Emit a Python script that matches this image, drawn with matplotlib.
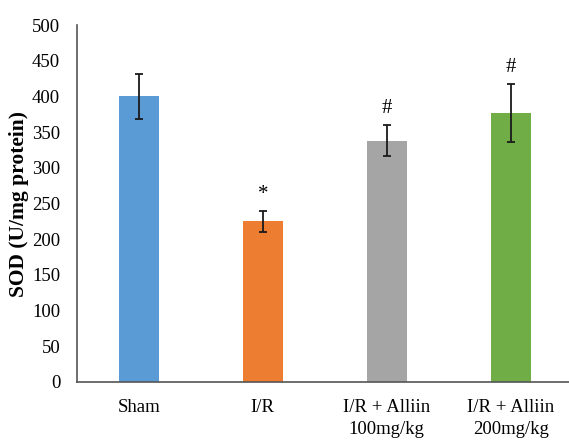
import matplotlib
matplotlib.use("Agg")
import matplotlib.pyplot as plt

categories = ["Sham", "I/R", "I/R + Alliin\n100mg/kg", "I/R + Alliin\n200mg/kg"]
values = [400, 225, 338, 377]
errors = [31, 15, 22, 41]
marks = ["", "*", "#", "#"]
colors = ["#5B9BD5", "#ED7D31", "#A5A5A5", "#70AD47"]
yticks = [0, 50, 100, 150, 200, 250, 300, 350, 400, 450, 500]

plt.rcParams['font.family'] = ['Liberation Serif', 'DejaVu Serif']

fig = plt.figure(figsize=(5.69, 4.41), dpi=100)
ax = fig.add_axes([0.135, 0.134, 0.865, 0.809])
x = list(range(len(categories)))
ax.bar(x, values, width=0.32, color=colors, zorder=2)
ax.errorbar(x, values, yerr=errors, fmt='none', ecolor='#1a1a1a', elinewidth=1.3,
            capsize=3, capthick=1.3, zorder=3)
for xi, v, e, m in zip(x, values, errors, marks):
    if m:
        ax.text(xi, v + e + 10, m, ha='center', va='bottom', fontsize=15)

ax.set_ylim(0, 500)
ax.set_xlim(-0.5, 3.47)
ax.set_yticks(yticks)
ax.set_xticks(x)
ax.set_xticklabels(categories, fontsize=13.5, linespacing=1.4)
ax.tick_params(axis='y', labelsize=13.5)
ax.tick_params(axis='both', length=0)
ax.tick_params(axis='x', pad=12)
ax.tick_params(axis='y', pad=12)
for s in ['top', 'right']:
    ax.spines[s].set_visible(False)
for s in ['left', 'bottom']:
    ax.spines[s].set_color('#555555')
    ax.spines[s].set_linewidth(1.2)
ax.set_ylabel("SOD (U/mg protein)", fontsize=15.5, fontweight='bold', labelpad=2)

fig.savefig("out.png", dpi=100)
